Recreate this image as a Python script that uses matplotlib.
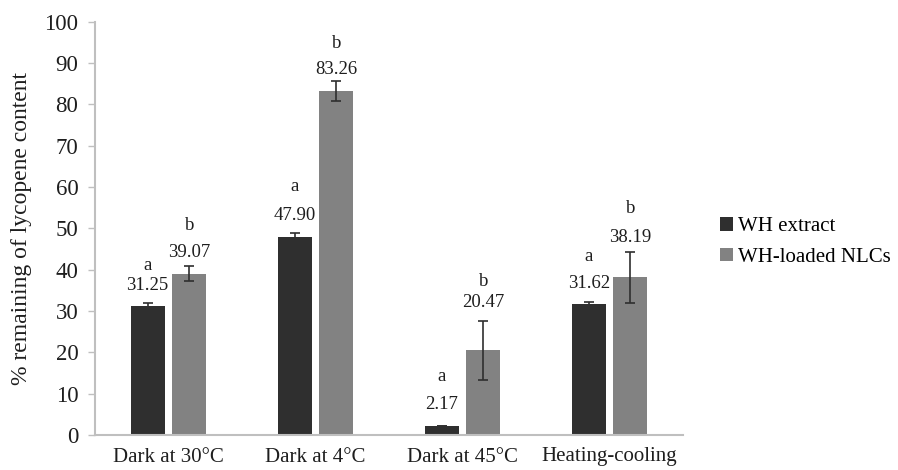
import matplotlib
matplotlib.use("Agg")
import matplotlib.pyplot as plt
from matplotlib.patches import Patch
import numpy as np

plt.rcParams['font.family'] = ['Liberation Serif', 'DejaVu Serif']

categories = ["Dark at 30\u00b0C", "Dark at 4\u00b0C", "Dark at 45\u00b0C", "Heating-cooling"]
series_names = ["WH extract", "WH-loaded NLCs"]
extract_vals = [31.25, 47.90, 2.17, 31.62]
extract_err = [0.8, 1.0, 0.0, 0.5]
nlc_vals = [39.07, 83.26, 20.47, 38.19]
nlc_err = [1.7, 2.4, 7.2, 6.2]
extract_letters = ["a", "a", "a", "a"]
nlc_letters = ["b", "b", "b", "b"]

# label placement (points above the error-bar top), value label then letter
extract_label_dy = [12.6, 12.2, 15.8, 13.8]
extract_letter_dy = [14.4, 20.9, 20.2, 19.4]
nlc_label_dy = [10.4, 8.6, 13.4, 10.4]
nlc_letter_dy = [19.4, 18.7, 15.1, 20.9]

dark = "#2f2f2f"
gray = "#828282"
axis_gray = "#bfbfbf"
text_col = "#1e1e1e"

fig = plt.figure(figsize=(8.98, 4.70), dpi=100)
ax = fig.add_axes([95 / 898, 1 - 435 / 470, 588 / 898, (435 - 21.7) / 470])

x = np.arange(len(categories)) + 0.5
w = 0.232
off = 0.142

ax.bar(x - off, extract_vals, w, color=dark, zorder=2)
ax.bar(x + off, nlc_vals, w, color=gray, zorder=2)
ax.errorbar(x - off, extract_vals, yerr=extract_err, fmt="none", ecolor=dark,
            elinewidth=1.2, capsize=3.6, capthick=1.2, zorder=3)
ax.errorbar(x + off, nlc_vals, yerr=nlc_err, fmt="none", ecolor=dark,
            elinewidth=1.2, capsize=3.6, capthick=1.2, zorder=3)

# value labels above the error bars, significance letters above those
for xs, vals, errs, letters, ldy, tdy in [
        (x - off, extract_vals, extract_err, extract_letters, extract_label_dy, extract_letter_dy),
        (x + off, nlc_vals, nlc_err, nlc_letters, nlc_label_dy, nlc_letter_dy)]:
    for xi, v, e, lt, d1, d2 in zip(xs, vals, errs, letters, ldy, tdy):
        ax.annotate(f"{v:.2f}", (xi, v + e), xytext=(0, d1), textcoords="offset points",
                    ha="center", va="center", fontsize=13.5, color=text_col)
        ax.annotate(lt, (xi, v + e), xytext=(0, d1 + d2), textcoords="offset points",
                    ha="center", va="center", fontsize=13.5, color=text_col)

ax.set_xlim(0, 4)
ax.set_ylim(0, 100)
ax.set_yticks(np.arange(0, 101, 10))
ax.set_xticks(x)
ax.set_xticklabels(categories, fontsize=15)
ax.tick_params(axis="y", labelsize=16.5, length=5, width=1, color=axis_gray, pad=7)
ax.tick_params(axis="x", length=0, pad=9)
for lab in ax.get_yticklabels() + ax.get_xticklabels():
    lab.set_color(text_col)

for s in ["top", "right"]:
    ax.spines[s].set_visible(False)
for s in ["left", "bottom"]:
    ax.spines[s].set_color(axis_gray)
    ax.spines[s].set_linewidth(1.5)

ax.set_ylabel("% remaining of lycopene content", fontsize=17, color=text_col, labelpad=9)

handles = [Patch(facecolor=dark, edgecolor="none"), Patch(facecolor=gray, edgecolor="none")]
fig.legend(handles, series_names, loc="center left", bbox_to_anchor=(712 / 898, 1 - 242 / 470),
           frameon=False, fontsize=15, handlelength=0.6, handleheight=0.6,
           handletextpad=0.25, labelspacing=0.55, borderaxespad=0)

fig.savefig("out.png", dpi=100)
